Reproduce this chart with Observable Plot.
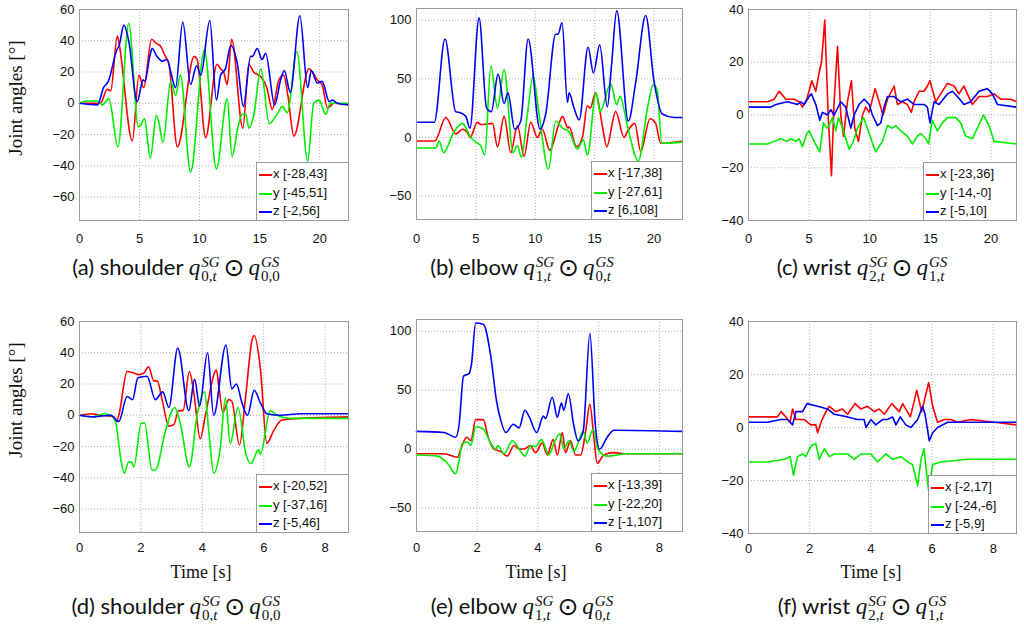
<!DOCTYPE html>
<html>
<head>
<meta charset="utf-8">
<script src="https://cdn.jsdelivr.net/npm/d3@7"></script>
<script src="https://cdn.jsdelivr.net/npm/@observablehq/plot@0.6"></script>
<style>
  body { margin: 0; background: #fff; }
  #fig { position: relative; width: 1024px; height: 635px; overflow: hidden; }
  .legend { position: absolute; box-sizing: border-box; background: #fff; border: 1px solid #999;
    font: 13px "Liberation Sans", Arial, sans-serif; color: #111; padding-top: 2px; }
  .legend div { position: relative; height: 18.5px; line-height: 18.5px; padding-left: 16px; white-space: nowrap; }
  .legend i { position: absolute; left: 2px; top: 9px; width: 13px; height: 2px; }
  .ylab { position: absolute; transform: translate(-50%, -50%) rotate(-90deg); white-space: nowrap;
    font: 19px "Liberation Serif", serif; color: #111; }
  .xlab { position: absolute; transform: translate(-50%, -50%); white-space: nowrap;
    font: 18px "Liberation Serif", serif; color: #111; }
  .cap { position: absolute; transform: translate(-50%, -50%); white-space: nowrap;
    font: 22px Lato, sans-serif; color: #111; }
  .mq { font: italic 23px "Liberation Serif", serif; }
  .ss { display: inline-block; font-size: 15px; line-height: 14px; vertical-align: -6px; margin-left: 1px; }
  .ss > span { display: block; }
  .up { font-style: normal; font-weight: normal; }
  .odot { font: 25px "DejaVu Sans", sans-serif; margin: 0 4px; vertical-align: -1px; line-height: 1; }
</style>
</head>
<body>
<div id="fig"></div>
<script>
// ---- data: [time (s), angle (deg)] ----
const shoulderA_x = [[0,0],[1.75,0],[2.3,9],[2.6,8],[3.15,43],[3.3,38],[4.4,-24],[4.95,18],[5.35,10],[6.0,41],[6.45,38],[6.7,37],[7.15,30],[7.45,25],[8.15,-28],[9.55,30],[9.8,28],[10.5,-22],[11.45,25],[11.75,22],[12.0,20],[12.3,12],[12.67,41],[13.6,-16],[14.1,25],[14.5,20],[15.1,17],[15.6,10],[16.05,-4],[16.6,15],[17.0,18],[17.35,5],[17.85,-21],[19.1,22],[19.4,20],[19.8,15],[20.2,12],[20.65,-3],[21.2,0],[22.4,-1]];
const shoulderA_y = [[0,0],[0.6,1.5],[1.5,1.5],[1.9,-1],[2.45,3],[3.2,-28],[4.1,51],[4.9,-15],[5.1,-14],[5.4,-10],[5.9,-35],[6.4,-8],[6.6,-12],[6.95,-25],[7.6,14],[8.0,5],[8.4,18],[9.25,-44],[10.4,34],[11.4,-42],[12.3,3],[12.7,-34],[13.2,-15],[13.55,-7],[13.85,-7],[14.1,-16],[14.5,-8],[15.1,22],[15.8,-13],[16.45,-7],[16.9,-2],[17.3,-6],[18.1,33],[19.0,-37],[19.5,0],[19.95,2],[20.5,-7],[20.9,0],[22.4,0]];
const shoulderA_z = [[0,0],[1.5,-1],[2.0,10],[2.4,14],[3.1,34],[3.3,37],[3.7,50],[4.1,40],[4.8,1],[5.3,15],[5.45,14],[5.85,30],[6.05,35],[6.45,30],[6.9,27],[7.3,28],[7.6,20],[8.0,10],[8.6,52],[9.25,12],[9.75,24],[10.1,18],[10.85,53],[11.4,2],[11.75,18],[12.15,22],[12.6,37],[13.15,25],[13.65,-2],[14.25,30],[14.4,30],[14.8,35],[15.2,28],[15.5,32],[16.25,-1],[16.75,15],[17.05,21],[17.55,7],[18.35,56],[19.0,10],[19.3,21],[19.8,13],[20.2,14],[20.8,1],[21.05,2],[21.5,0],[22.4,-1]];

const elbowB_x = [[0,-3],[1.54,-3],[2.47,17],[3.31,3],[3.87,7],[4.29,4],[4.52,0],[5.13,13],[5.41,11],[6.4,12],[6.82,-8],[7.38,18],[7.94,-13],[8.5,10],[9.06,-16],[9.62,13],[10.18,0],[10.6,7],[11.22,-11],[12.01,12],[12.29,18],[12.76,8],[12.85,9],[13.49,-8],[13.97,0],[14.39,27],[14.62,25],[15.09,38],[15.65,10],[16.02,-8],[16.77,22],[17.48,0],[17.76,5],[18.38,12],[18.88,-12],[19.66,16],[20.14,12],[20.56,-5],[22.4,-3]];
const elbowB_y = [[0,-9],[1.63,-9],[1.91,-3],[2.27,-13],[3.17,5],[3.87,12],[4.57,0],[4.99,-4],[5.41,-7],[5.75,-15],[6.26,61],[6.82,25],[7.38,58],[8.13,-13],[8.5,-7],[8.84,-17],[9.34,20],[9.82,52],[10.32,20],[11.11,-27],[11.72,14],[12.29,8],[12.85,5],[13.55,-10],[14.05,-2],[14.39,-15],[15.12,38],[15.46,22],[16.35,46],[16.86,28],[17.14,35],[17.76,10],[18.68,-20],[19.45,25],[19.94,45],[20.28,40],[20.65,-5],[22.4,-4]];
const elbowB_z = [[0,13],[1.5,13],[2.4,84],[3.3,22],[3.7,21],[4.15,18],[4.5,8],[5.27,102],[5.9,25],[6.3,22],[6.87,54],[7.38,29],[7.7,38],[8.27,7],[8.78,14],[9.4,84],[10.4,7],[10.88,20],[11.72,88],[11.92,88],[12.26,98],[12.71,30],[12.85,38],[13.27,25],[13.7,15],[14.45,77],[14.9,55],[15.43,79],[16.07,26],[16.41,60],[16.86,108],[17.84,14],[18.46,47],[19.3,104],[20.0,48],[20.7,20],[21.7,17],[22.4,17]];

const wristC_x = [[0,5],[1.57,5],[2.12,6],[2.53,9],[3.08,6],[3.76,6],[4.18,5],[4.45,3],[4.81,6],[5.22,13],[5.55,9],[5.82,16],[6.02,20],[6.29,36],[6.57,0],[6.84,-23],[7.06,5],[7.34,26],[7.61,0],[7.83,-8],[8.16,5],[8.49,13],[8.76,-5],[9.07,-10],[9.4,0],[9.67,3],[9.95,1],[10.44,10],[10.77,5],[11.1,0],[11.46,6],[12.01,11],[12.28,4],[12.69,5],[13.1,4],[13.43,1],[13.65,5],[14.07,9],[14.48,9],[14.75,11],[14.97,13],[15.44,5],[15.85,8],[16.4,12],[16.95,11],[17.36,8],[17.77,11],[18.05,8],[18.46,4],[19.01,7],[19.7,7],[20.25,8],[20.8,6],[21.62,6],[22.1,5]];
const wristC_y = [[0,-11],[1.57,-11],[2.12,-10],[2.66,-9],[3.16,-10],[3.49,-9],[3.9,-10],[4.18,-9],[4.45,-12],[4.81,-7],[5.0,-6],[5.41,-10],[5.88,-14],[6.18,-3],[6.46,-5],[6.65,-4],[6.92,-1],[7.2,-6],[7.42,-1],[7.75,-5],[8.3,-13],[8.65,-10],[8.98,-5],[9.48,-1],[9.95,-7],[10.49,-14],[11.04,-10],[11.46,-4],[11.87,-5],[12.14,-4],[12.55,-6],[13.1,-8],[13.52,-11],[13.93,-8],[14.2,-7],[14.62,-9],[14.84,-11],[15.16,-2],[15.58,-6],[15.99,-3],[16.4,-1],[17.09,-1],[17.5,-3],[17.91,-8],[18.46,-9],[18.87,-5],[19.37,0],[19.84,-4],[20.25,-10],[22.1,-11]];
const wristC_z = [[0,3],[1.84,3],[2.25,4],[3.21,5],[4.04,4],[4.31,5],[4.59,4],[5.0,7],[5.19,8],[5.55,4],[5.88,-2],[6.1,1],[6.51,0],[6.79,2],[7.06,0],[7.61,5],[8.02,3],[8.43,-5],[8.71,0],[9.12,4],[9.53,6],[9.95,4],[10.22,0],[10.63,-4],[10.91,-3],[11.18,3],[11.46,7],[12.01,7],[12.55,5],[13.1,6],[13.65,4],[14.48,4],[14.75,3],[14.97,-3],[15.3,5],[15.71,4],[16.4,8],[16.81,9],[17.23,7],[17.77,4],[18.32,5],[19.01,9],[19.7,10],[20.11,8],[20.52,4],[22.1,3]];

const shoulderD_x = [[0,0],[0.36,1],[0.68,0],[1.12,-1],[1.2,-4],[1.28,0],[1.55,28],[1.77,27],[1.93,26],[2.09,27],[2.25,31],[2.42,22],[2.53,22],[2.69,10],[2.91,-7],[3.07,-6],[3.23,3],[3.37,3],[3.58,28],[3.72,15],[3.93,-15],[4.1,0],[4.46,29],[4.53,20],[4.67,2],[4.86,10],[4.96,9],[5.21,-19],[5.4,10],[5.62,48],[5.69,51],[5.89,30],[6.1,-18],[6.32,-10],[6.59,-3],[7.19,-2],[8.76,-1]];
const shoulderD_y = [[0,0],[0.47,-1],[0.79,1],[1.01,0],[1.17,-4],[1.36,-30],[1.46,-37],[1.6,-30],[1.69,-30],[1.77,-33],[2.01,-5],[2.12,-5],[2.36,-35],[2.47,-35],[2.8,-10],[3.1,5],[3.28,-5],[3.58,-33],[3.83,0],[4.07,15],[4.21,-10],[4.37,-37],[4.59,-20],[4.75,11],[4.91,-18],[5.16,5],[5.42,-25],[5.58,-31],[5.83,-22],[5.89,-25],[6.21,3],[6.43,0],[6.86,-2],[8.76,-2]];
const shoulderD_z = [[0,0],[0.47,-1],[1.01,0],[1.28,-4],[1.55,12],[1.73,10],[1.9,24],[2.2,25],[2.47,10],[2.71,15],[2.91,5],[3.2,43],[3.56,3],[3.75,23],[3.91,6],[4.17,40],[4.37,0],[4.77,45],[4.96,17],[5.11,20],[5.29,8],[5.47,0],[5.69,16],[5.89,8],[6.1,1],[6.54,0],[7.19,1],[8.76,1]];

const elbowE_x = [[0,-4],[0.91,-4],[1.35,-7],[1.46,0],[1.65,10],[1.79,7],[1.95,25],[2.2,25],[2.36,10],[2.55,0],[2.77,-2],[2.99,-6],[3.21,3],[3.38,0],[3.54,0],[3.74,3],[3.92,-3],[4.14,5],[4.31,-5],[4.5,8],[4.64,-5],[4.8,14],[4.91,-3],[5.07,7],[5.24,-5],[5.41,-5],[5.57,15],[5.71,38],[5.84,10],[5.95,-12],[6.17,-5],[6.5,-3],[6.94,-4],[8.76,-4]];
const elbowE_y = [[0,-5],[0.69,-6],[1.02,-12],[1.29,-21],[1.4,-10],[1.51,5],[1.68,6],[1.79,3],[1.95,19],[2.2,17],[2.44,5],[2.61,0],[2.68,3],[2.88,-4],[3.16,7],[3.38,0],[3.57,-6],[3.76,3],[3.92,2],[4.12,8],[4.36,-5],[4.53,5],[4.72,13],[4.85,0],[5.02,7],[5.18,-2],[5.49,15],[5.62,5],[5.82,17],[5.97,0],[6.28,-6],[6.94,-4],[8.76,-4]];
const elbowE_z = [[0,15],[0.91,14],[1.29,10],[1.4,20],[1.55,62],[1.73,64],[1.81,72],[1.95,107],[2.2,106],[2.44,80],[2.64,40],[2.77,25],[2.94,14],[3.19,21],[3.38,18],[3.57,33],[3.7,28],[3.96,14],[4.18,28],[4.25,26],[4.47,44],[4.64,27],[4.77,39],[4.85,33],[5.0,47],[5.18,20],[5.32,7],[5.49,15],[5.71,98],[5.89,20],[6.03,0],[6.28,10],[6.5,16],[8.76,15]];

const wristF_x = [[0,4],[0.62,4],[0.95,4],[1.06,6],[1.22,4],[1.36,2],[1.44,7],[1.55,3],[1.82,3],[2.04,1],[2.2,1],[2.26,-2],[2.37,2],[2.53,6],[2.64,8],[2.85,6],[3.07,7],[3.24,5],[3.48,9],[3.67,7],[3.89,8],[4.11,6],[4.27,7],[4.44,5],[4.68,9],[4.93,6],[5.04,9],[5.29,4],[5.5,14],[5.66,6],[5.89,17],[6.02,8],[6.18,2],[6.4,3],[6.62,3],[6.83,2],[7.27,3],[8.03,2],[8.76,1]];
const wristF_y = [[0,-13],[0.62,-13],[1.17,-12],[1.36,-11],[1.47,-18],[1.6,-11],[1.77,-10],[1.87,-11],[2.04,-7],[2.2,-6],[2.31,-12],[2.48,-8],[2.64,-11],[2.8,-10],[3.24,-10],[3.46,-12],[3.67,-10],[4.0,-10],[4.22,-13],[4.49,-10],[4.71,-12],[4.98,-11],[5.2,-13],[5.36,-14],[5.53,-22],[5.64,-12],[5.74,-8],[5.79,-14],[5.89,-24],[6.02,-14],[6.29,-13],[7.16,-12],[7.92,-12],[8.76,-12]];
const wristF_z = [[0,2],[0.62,2],[1.06,3],[1.28,3],[1.44,1],[1.55,6],[1.77,6],[1.91,9],[2.26,8],[2.58,7],[2.8,5],[3.24,4],[3.56,3],[3.78,3],[3.84,0],[4.0,3],[4.16,1],[4.38,3],[4.54,3],[4.71,4],[4.82,1],[4.96,4],[5.14,1],[5.31,0],[5.53,3],[5.69,8],[5.77,5],[5.91,-5],[6.02,-2],[6.18,0],[6.51,2],[8.76,2]];

// legend labels (ranges as printed in the figure)
const rangesA = ["x [-28,43]", "y [-45,51]", "z [-2,56]"];
const rangesB = ["x [-17,38]", "y [-27,61]", "z [6,108]"];
const rangesC = ["x [-23,36]", "y [-14,-0]", "z [-5,10]"];
const rangesD = ["x [-20,52]", "y [-37,16]", "z [-5,46]"];
const rangesE = ["x [-13,39]", "y [-22,20]", "z [-1,107]"];
const rangesF = ["x [-2,17]", "y [-24,-6]", "z [-5,9]"];

// tick values
const ticksTimeLong = [0, 5, 10, 15, 20];
const ticksTimeShort = [0, 2, 4, 6, 8];
const ticksShoulder = [-60, -40, -20, 0, 20, 40, 60];
const ticksElbow = [-50, 0, 50, 100];
const ticksWrist = [-40, -20, 0, 20, 40];

// caption text
const capNames = ["(a) shoulder", "(b) elbow", "(c) wrist", "(d) shoulder", "(e) elbow", "(f) wrist"];
const capSub1 = ["0,t", "1,t", "2,t", "0,t", "1,t", "2,t"];
const capSub2 = ["0,0", "0,t", "1,t", "0,0", "0,t", "1,t"];

const SERIES = ["x", "y", "z"];
const COLORS = ["#ff0000", "#00ee00", "#0000ff"];

// layout: frame = [left, right, top, bottom] in page px
const panels = [
  { series: [shoulderA_x, shoulderA_y, shoulderA_z], ranges: rangesA, frame: [79, 348, 9, 220], xd: [0, 22.4], xt: ticksTimeLong, yd: [-75, 60], yt: ticksShoulder, lw: 92, padX: 13, curve: "monotone-x" },
  { series: [elbowB_x, elbowB_y, elbowB_z], ranges: rangesB, frame: [416, 682, 8, 219], xd: [0, 22.4], xt: ticksTimeLong, yd: [-70, 110], yt: ticksElbow, lw: 91, padX: 14, curve: "monotone-x" },
  { series: [wristC_x, wristC_y, wristC_z], ranges: rangesC, frame: [748, 1016, 9, 220], xd: [0, 22.1], xt: ticksTimeLong, yd: [-40, 40], yt: ticksWrist, lw: 93, padX: 13, curve: "linear" },
  { series: [shoulderD_x, shoulderD_y, shoulderD_z], ranges: rangesD, frame: [79, 348, 321, 532], xd: [0, 8.76], xt: ticksTimeShort, yd: [-75, 60], yt: ticksShoulder, lw: 92, padX: 10, curve: "monotone-x" },
  { series: [elbowE_x, elbowE_y, elbowE_z], ranges: rangesE, frame: [416, 682, 319, 531], xd: [0, 8.76], xt: ticksTimeShort, yd: [-70, 110], yt: ticksElbow, lw: 91, padX: 11, curve: "monotone-x" },
  { series: [wristF_x, wristF_y, wristF_z], ranges: rangesF, frame: [748, 1016, 321, 533], xd: [0, 8.76], xt: ticksTimeShort, yd: [-40, 40], yt: ticksWrist, lw: 88, padX: 10, curve: "linear" }
];
const capCenters = [[176, 268], [522, 268], [862, 268], [176, 607], [522, 607], [862, 607]];

const fig = document.getElementById("fig");
const ML = 50, MR = 6, MT = 6, MB = 30;

panels.forEach((p, k) => {
  const [fx0, fx1, fy0, fy1] = p.frame;
  const rows = p.series.flatMap((pts, i) => pts.map(([t, v]) => ({ t, v, s: SERIES[i] })));
  const grid = { stroke: "#b0b0b0", strokeOpacity: 1, strokeDasharray: "1,2" };
  const svg = Plot.plot({
    width: fx1 - fx0 + ML + MR,
    height: fy1 - fy0 + MT + MB,
    marginLeft: ML, marginRight: MR, marginTop: MT, marginBottom: MB,
    style: { fontFamily: '"Liberation Sans", Arial, sans-serif', fontSize: "13px", color: "#111", background: "transparent", overflow: "visible" },
    x: { domain: p.xd, ticks: p.xt, tickSize: 0, tickPadding: p.padX, label: null },
    y: { domain: p.yd, ticks: p.yt, tickSize: 0, tickPadding: 5, label: null },
    color: { domain: SERIES, range: COLORS },
    marks: [
      Plot.gridX(p.xt, grid),
      Plot.gridY(p.yt, grid),
      Plot.line(rows, { x: "t", y: "v", z: "s", stroke: "s", strokeWidth: 1.6, curve: p.curve }),
      Plot.frame({ stroke: "#999" })
    ]
  });
  svg.style.position = "absolute";
  svg.style.left = (fx0 - ML) + "px";
  svg.style.top = (fy0 - MT) + "px";
  fig.append(svg);

  // legend box in the lower right corner of the axes
  const lg = document.createElement("div");
  lg.className = "legend";
  Object.assign(lg.style, { left: (fx1 - p.lw) + "px", top: (fy1 - 58) + "px", width: (p.lw + 1) + "px", height: "59px" });
  p.ranges.forEach((txt, i) => {
    const row = document.createElement("div");
    const sw = document.createElement("i");
    sw.style.background = COLORS[i];
    row.append(sw, txt);
    lg.append(row);
  });
  fig.append(lg);

  // caption
  const cap = document.createElement("div");
  cap.className = "cap";
  cap.style.left = capCenters[k][0] + "px";
  cap.style.top = capCenters[k][1] + "px";
  const sub = s => s.split(",").map(c => /\d/.test(c) ? `<span class="up">${c}</span>` : c).join(",");
  cap.innerHTML = `${capNames[k]} <span class="mq">q<span class="ss"><span>SG</span><span>${sub(capSub1[k])}</span></span></span>` +
    `<span class="odot">⊙</span><span class="mq">q<span class="ss"><span>GS</span><span>${sub(capSub2[k])}</span></span></span>`;
  fig.append(cap);
});

// axis titles
[[16, 98], [16, 400]].forEach(([x, y]) => {
  const d = document.createElement("div");
  d.className = "ylab";
  d.style.left = x + "px"; d.style.top = y + "px";
  d.textContent = "Joint angles [°]";
  fig.append(d);
});
[[201, 572], [536, 572], [871, 572]].forEach(([x, y]) => {
  const d = document.createElement("div");
  d.className = "xlab";
  d.style.left = x + "px"; d.style.top = y + "px";
  d.textContent = "Time [s]";
  fig.append(d);
});
</script>
</body>
</html>
